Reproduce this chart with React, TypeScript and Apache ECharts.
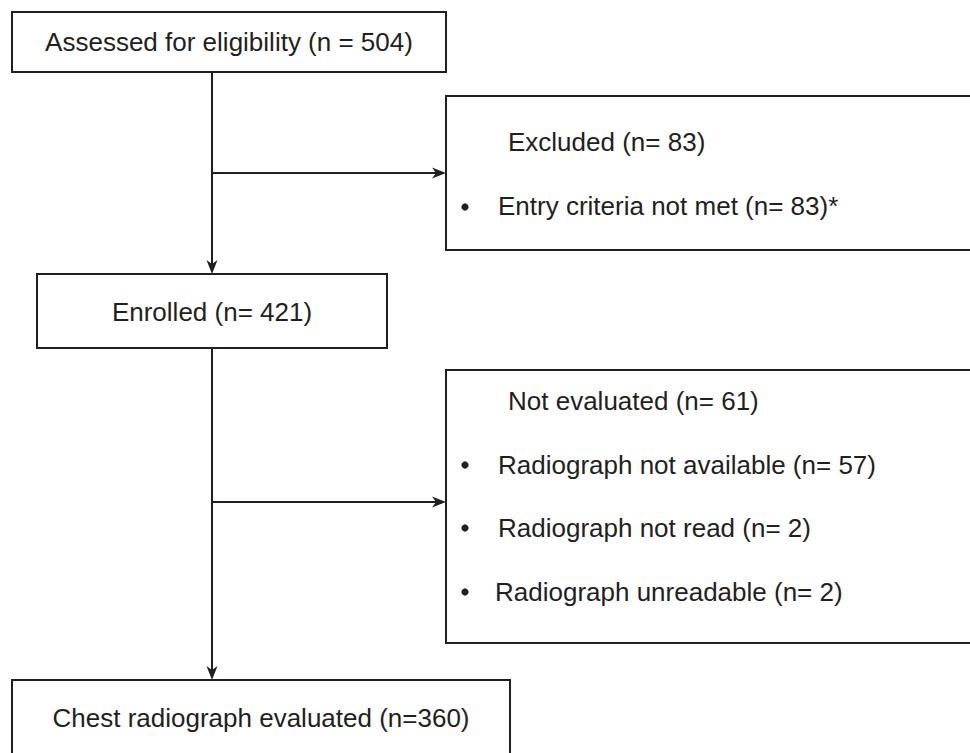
import React, { useEffect, useRef } from "react";
import * as echarts from "echarts";

const mainSteps = [
  "Assessed for eligibility (n = 504)",
  "Enrolled (n= 421)",
  "Chest radiograph evaluated (n=360)",
];
const excludedTitle = "Excluded (n= 83)";
const excludedItems = ["Entry criteria not met (n= 83)*"];
const notEvalTitle = "Not evaluated (n= 61)";
const notEvalItems = [
  "Radiograph not available (n= 57)",
  "Radiograph not read (n= 2)",
  "Radiograph unreadable (n= 2)",
];

const INK = "#231f20";
const FONT = "'Liberation Sans', Arial, Helvetica, sans-serif";
const FS = 26;

function box(x: number, y: number, w: number, h: number) {
  return {
    type: "rect",
    shape: { x, y, width: w, height: h },
    style: { fill: "#fff", stroke: INK, lineWidth: 2 },
  };
}
function line(x1: number, y1: number, x2: number, y2: number) {
  return {
    type: "line",
    shape: { x1, y1, x2, y2 },
    style: { stroke: INK, lineWidth: 2 },
  };
}
function arrowRight(x: number, y: number) {
  return {
    type: "polygon",
    shape: { points: [[x, y], [x - 14, y - 5.5], [x - 10, y], [x - 14, y + 5.5]] },
    style: { fill: INK },
  };
}
function arrowDown(x: number, y: number) {
  return {
    type: "polygon",
    shape: { points: [[x, y], [x - 5.5, y - 14], [x, y - 10], [x + 5.5, y - 14]] },
    style: { fill: INK },
  };
}
function txt(s: string, x: number, y: number, align: string = "left") {
  return {
    type: "text",
    x,
    y,
    style: {
      text: s,
      fill: INK,
      font: `${FS}px ${FONT}`,
      textAlign: align,
      textVerticalAlign: "middle",
    },
  };
}
function bullet(x: number, y: number) {
  return { type: "circle", shape: { cx: x, cy: y, r: 3.6 }, style: { fill: INK } };
}

export default function App() {
  const ref = useRef<HTMLDivElement>(null);
  useEffect(() => {
    document.body.style.margin = "0";
    const chart = echarts.init(ref.current!, undefined, { renderer: "svg" });
    const elements: any[] = [];
    // connectors
    elements.push(line(212, 72, 212, 268));
    elements.push(arrowDown(212, 274));
    elements.push(line(212, 173, 440, 173));
    elements.push(arrowRight(446, 173));
    elements.push(line(212, 348, 212, 674));
    elements.push(arrowDown(212, 680));
    elements.push(line(212, 502, 440, 502));
    elements.push(arrowRight(446, 502));
    // main boxes
    elements.push(box(12, 12, 434, 60));
    elements.push(txt(mainSteps[0], 229, 42, "center"));
    elements.push(box(37, 274, 350, 74));
    elements.push(txt(mainSteps[1], 212, 312, "center"));
    elements.push(box(12, 680, 498, 120));
    elements.push(txt(mainSteps[2], 261, 718, "center"));
    // excluded box
    elements.push(box(446, 96, 600, 154));
    elements.push(txt(excludedTitle, 508, 142));
    excludedItems.forEach((s, i) => {
      elements.push(bullet(465, 207 + i * 63));
      elements.push(txt(s, 498, 206 + i * 63));
    });
    // not evaluated box
    elements.push(box(446, 370, 600, 273));
    elements.push(txt(notEvalTitle, 508, 401));
    const itemYs = [465, 528, 592];
    const itemXs = [498, 498, 495];
    notEvalItems.forEach((s, i) => {
      elements.push(bullet(465, itemYs[i]));
      elements.push(txt(s, itemXs[i], itemYs[i]));
    });
    chart.setOption({
      animation: false,
      backgroundColor: "#fff",
      graphic: { elements },
    });
    return () => chart.dispose();
  }, []);
  return <div ref={ref} style={{ width: 970, height: 753 }} />;
}
